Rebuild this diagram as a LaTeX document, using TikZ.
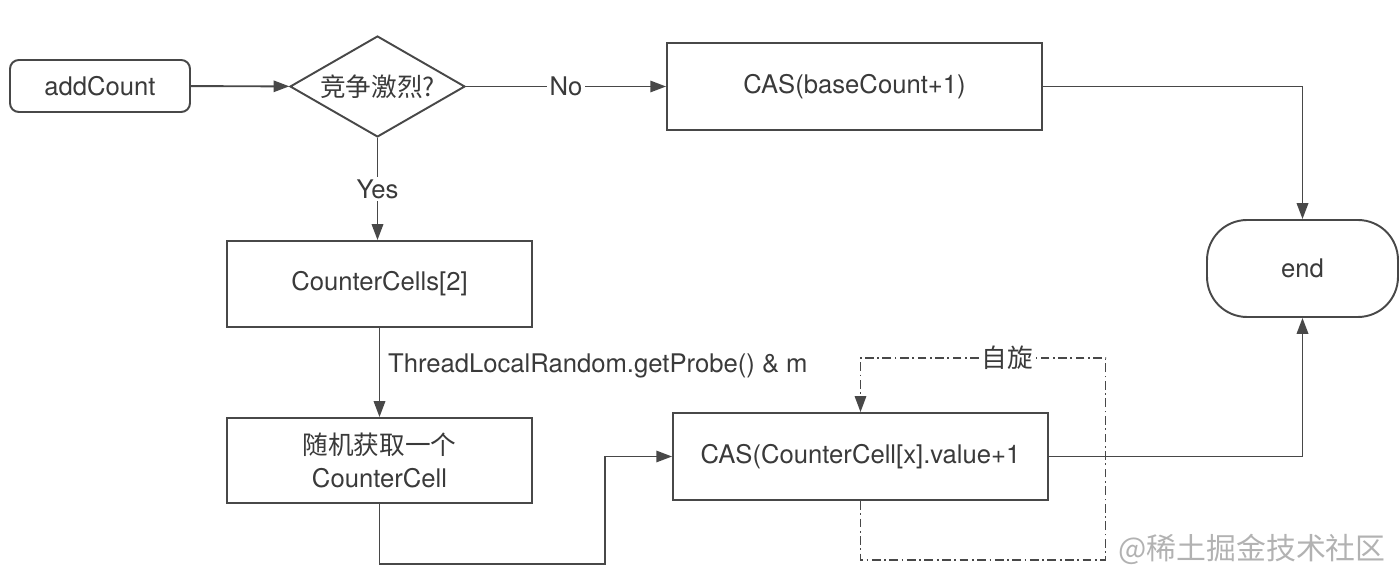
\documentclass[tikz,border=0pt]{standalone}
\usepackage{fontspec}
\setmainfont{TeX Gyre Heros}
\newfontfamily\cjk{Noto Sans CJK SC}
\usetikzlibrary{arrows.meta,calc,shapes.geometric}
\definecolor{lnegray}{RGB}{72,72,72}
\definecolor{txtgray}{RGB}{58,58,58}
\definecolor{markgray}{RGB}{178,178,178}

\begin{document}
\begin{tikzpicture}[x=0.02cm,y=-0.02cm,font=\fontsize{14.6}{19}\selectfont,
    color=lnegray,text=txtgray,line width=1.1pt,
    >={Triangle[length=9pt,width=6.5pt]},
    flowbox/.style={draw,rectangle,inner sep=2pt,align=center},
    termbox/.style={draw,rectangle,rounded corners=5pt,inner sep=2pt},
    endbox/.style={draw,rectangle,rounded corners=0.8cm,inner sep=2pt},
    decision/.style={draw,diamond,aspect=1.73,inner sep=1pt,
      minimum width=3.5cm,minimum height=2.02cm},
    lbl/.style={fill=white,inner sep=1.5pt},
    spin/.style={line width=0.9pt,dash pattern=on 5pt off 2pt on 1pt off 2pt}]
    \useasboundingbox (0,0) rectangle (1400,580);
    % boxes
    \node[termbox,minimum width=3.6cm,minimum height=1.04cm] (add) at (100,86) {addCount};
    \node[decision] (race) at (377.5,86.5) {\cjk 竞争激烈?};
    \node[flowbox,minimum width=7.5cm,minimum height=1.74cm] (base) at (854.5,86.5) {CAS(baseCount+1)};
    \node[endbox,minimum width=3.82cm,minimum height=1.94cm] (end) at (1302.5,268.5) {end};
    \node[flowbox,minimum width=6.1cm,minimum height=1.72cm] (cells) at (379.5,284) {CounterCells[2]};
    \node[flowbox,minimum width=6.1cm,minimum height=1.7cm] (pick) at (379.5,460.5) {{\cjk 随机获取一个}\\CounterCell};
    \node[flowbox,minimum width=7.5cm,minimum height=1.74cm] (cell) at (860.5,456.5) {CAS(CounterCell[x].value+1};
    \node[text=markgray,font=\cjk\fontsize{17}{20}\selectfont] (mark) at (1252,549) {@稀土掘金技术社区};
    % arrows
    \draw[->] (add) -- (race);
    \draw[->] (race) -- node[lbl]{No} (base);
    \draw[->] (race.south) -- node[lbl]{Yes} (race.south |- cells.north);
    \draw[->] (base.east) -| (end.north);
    \draw[->] (cells) -- node[right,xshift=1pt,yshift=3.5pt]{ThreadLocalRandom.getProbe() \& m} (pick);
    \draw[->] (pick.south) -- ++(0,60) -| ($(cell.west)+(-67,0)$) -- (cell.west);
    \draw[->] (cell.east) -| (end.south);
    % spin loop
    \draw[spin,->] (cell.south) -- ++(0,59) -- ++(245,0) -- ++(0,-202) coordinate (spintop)
      -- node[lbl,pos=0.4]{\cjk 自旋} (spintop -| cell.north) -- (cell.north);
  \end{tikzpicture}
\end{document}
